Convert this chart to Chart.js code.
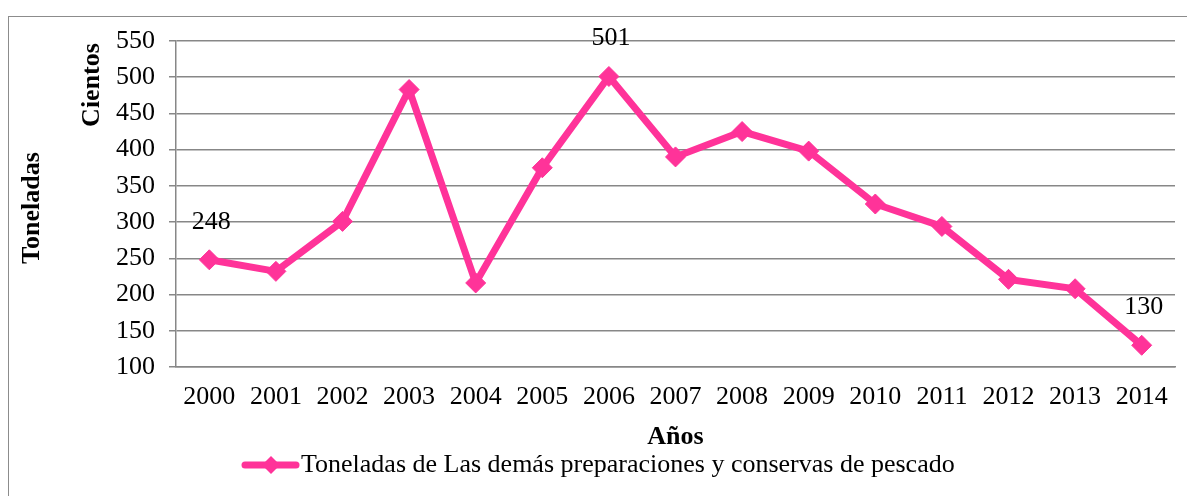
<!DOCTYPE html>
<html>
<head>
<meta charset="utf-8">
<script src="https://cdn.jsdelivr.net/npm/chart.js"></script>
<style>
  html, body { margin: 0; padding: 0; background: #fff; }
  #wrap { width: 1187px; height: 496px; position: relative; }
</style>
</head>
<body>
<div id="wrap"><canvas id="chart" width="1187" height="496"></canvas></div>
<script>
// Data
const years = ["2000", "2001", "2002", "2003", "2004", "2005", "2006", "2007", "2008", "2009", "2010", "2011", "2012", "2013", "2014"];
const toneladas = [248, 232, 301, 483, 216, 375, 501, 390, 425, 398, 325, 294, 221, 208, 130];
const labelledYears = ["2000", "2006", "2014"];  // only these points carry a value label
const seriesName = "Toneladas de Las demás preparaciones y conservas de pescado";
const pink = '#FF3399';
const serif = '"Liberation Serif", "Times New Roman", serif';

// Draws the frame, axis titles, value labels and legend
const extras = {
    id: 'extras',
    afterDraw(chart) {
        const ctx = chart.ctx;
        const area = chart.chartArea;
        const x = chart.scales.x;
        const y = chart.scales.y;
        ctx.save();

        // outer frame (runs off right and bottom edges)
        ctx.strokeStyle = '#8c8c8c';
        ctx.lineWidth = 1;
        ctx.strokeRect(8.5, 16.5, 1200, 500);

        // value labels
        ctx.fillStyle = '#000';
        ctx.font = '26px ' + serif;
        ctx.textAlign = 'center';
        ctx.textBaseline = 'middle';
        years.forEach((yr, i) => {
            if (labelledYears.includes(yr)) {
                ctx.fillText(String(toneladas[i]), x.getPixelForValue(i) + 2, y.getPixelForValue(toneladas[i]) - 38);
            }
        });

        // axis titles
        ctx.font = 'bold 26px ' + serif;
        ctx.fillText('Años', (area.left + area.right) / 2, 437);

        ctx.save();
        ctx.translate(92, 85);
        ctx.rotate(-Math.PI / 2);
        ctx.fillText('Cientos', 0, 0);
        ctx.restore();

        ctx.save();
        ctx.translate(32, 208);
        ctx.rotate(-Math.PI / 2);
        ctx.fillText('Toneladas', 0, 0);
        ctx.restore();

        // legend
        const ly = 465;
        ctx.strokeStyle = pink;
        ctx.lineWidth = 7;
        ctx.lineCap = 'round';
        ctx.beginPath();
        ctx.moveTo(245, ly);
        ctx.lineTo(296, ly);
        ctx.stroke();
        ctx.fillStyle = pink;
        ctx.beginPath();
        ctx.moveTo(271, ly - 9);
        ctx.lineTo(280, ly);
        ctx.lineTo(271, ly + 9);
        ctx.lineTo(262, ly);
        ctx.closePath();
        ctx.fill();
        ctx.fillStyle = '#000';
        ctx.font = '26px ' + serif;
        ctx.textAlign = 'left';
        ctx.fillText(seriesName, 301, ly);

        ctx.restore();
    }
};

new Chart(document.getElementById('chart').getContext('2d'), {
    type: 'line',
    data: {
        labels: years,
        datasets: [{
            label: seriesName,
            data: toneladas,
            borderColor: pink,
            backgroundColor: pink,
            borderWidth: 7,
            pointStyle: 'rectRot',
            pointRadius: 10,
            pointBorderWidth: 1,
            pointBorderColor: pink,
            pointBackgroundColor: pink,
            tension: 0,
            fill: false
        }]
    },
    options: {
        responsive: false,
        animation: false,
        layout: { padding: { top: 41, right: 12, left: 0, bottom: 0 } },
        plugins: {
            legend: { display: false },
            tooltip: { enabled: false }
        },
        scales: {
            x: {
                offset: true,
                afterFit: s => { s.height = 129; },
                grid: { display: false, drawTicks: false },
                border: { display: true, color: '#878787', width: 1.5 },
                ticks: {
                    color: '#000',
                    padding: 15,
                    maxRotation: 0,
                    autoSkip: false,
                    font: { family: serif, size: 26 }
                }
            },
            y: {
                min: 100,
                max: 550,
                afterFit: s => { s.width = 176; },
                grid: { color: '#878787', lineWidth: 1.5, tickLength: 7 },
                border: { display: true, color: '#878787', width: 1.5 },
                ticks: {
                    stepSize: 50,
                    color: '#000',
                    padding: 14,
                    font: { family: serif, size: 26 }
                }
            }
        }
    },
    plugins: [extras]
});
</script>
</body>
</html>
